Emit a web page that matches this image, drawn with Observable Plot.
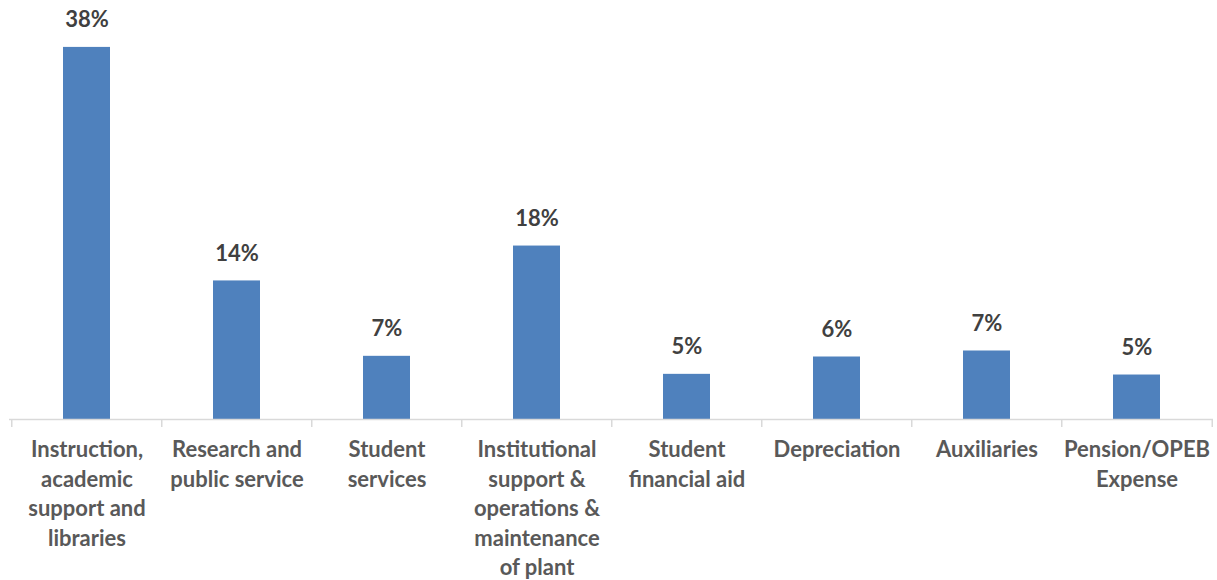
<!DOCTYPE html>
<html>
<head>
<meta charset="utf-8">
<script src="https://cdn.jsdelivr.net/npm/d3@7"></script>
<script src="https://cdn.jsdelivr.net/npm/@observablehq/plot@0.6"></script>
<style>
  html, body { margin: 0; padding: 0; background: #fff; }
  #chart svg { display: block; }
</style>
</head>
<body>
<div id="chart"></div>
<script>
const categories = [
  "Instruction, academic support and libraries",
  "Research and public service",
  "Student services",
  "Institutional support & operations & maintenance of plant",
  "Student financial aid",
  "Depreciation",
  "Auxiliaries",
  "Pension/OPEB Expense"
];
const tickLabels = [
  "Instruction,\nacademic\nsupport and\nlibraries",
  "Research and\npublic service",
  "Student\nservices",
  "Institutional\nsupport &\noperations &\nmaintenance\nof plant",
  "Student\nfinancial aid",
  "Depreciation",
  "Auxiliaries",
  "Pension/OPEB\nExpense"
];
const values = [38.4, 14.3, 6.52, 17.9, 4.66, 6.45, 7.07, 4.59];
const valueLabels = ["38%", "14%", "7%", "18%", "5%", "6%", "7%", "5%"];

const data = categories.map((c, i) => ({category: c, value: values[i], label: valueLabels[i], tick: tickLabels[i]}));

const W = 1217, H = 580;
const mL = 9, mR = 4;
const bw = (W - mL - mR) / categories.length;
const font = "Lato, 'Open Sans', sans-serif";

const chart = Plot.plot({
  width: W,
  height: H,
  marginLeft: mL,
  marginRight: mR,
  marginTop: 31.4,
  marginBottom: 161,
  style: {fontFamily: font, background: "#fff"},
  x: {domain: categories, padding: 0.69, paddingOuter: 0.345, align: 0.5},
  y: {domain: [0, 40], axis: null},
  marks: [
    Plot.barY(data, {x: "category", y: "value", fill: "#4f81bd"}),
    Plot.ruleY([0], {stroke: "#d9d9d9", strokeWidth: 1.5}),
    Plot.ruleX(categories, {x: d => d, dx: -bw / 2, y1: 0, y2: 0, insetBottom: -8, stroke: "#d9d9d9", strokeWidth: 1.5}),
    Plot.ruleX([categories[categories.length - 1]], {x: d => d, dx: bw / 2, y1: 0, y2: 0, insetBottom: -8, stroke: "#d9d9d9", strokeWidth: 1.5}),
    Plot.text(data, {x: "category", y: "value", text: "label", dy: -27, fontSize: 22, fontWeight: "bold", fill: "#404040", fontFamily: font}),
    Plot.axisX({
      tickSize: 0,
      tickPadding: 17,
      tickFormat: (d, i) => tickLabels[categories.indexOf(d)],
      fontSize: 22,
      fontWeight: "bold",
      lineHeight: 1.34,
      fill: "#595959",
      label: null,
      fontFamily: font
    })
  ]
});
document.getElementById("chart").appendChild(chart);
</script>
</body>
</html>
